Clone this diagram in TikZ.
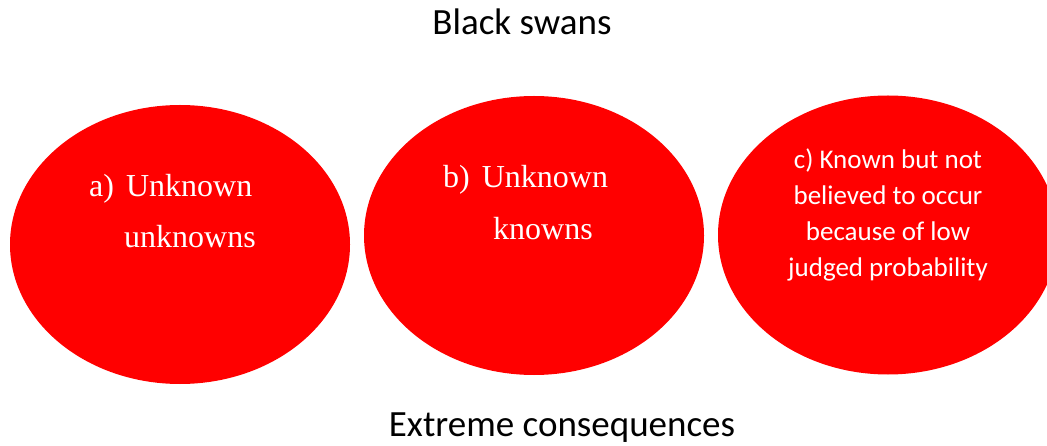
\documentclass[tikz,border=0pt]{standalone}
\usepackage{fontspec}
\setmainfont{Liberation Serif}
\newfontfamily\calfont{Carlito}
\usetikzlibrary{shapes.geometric}
\begin{document}
\begin{tikzpicture}[x=1pt,y=-1pt,
  swan/.style={ellipse, fill=red, draw=none, inner sep=0pt, minimum width=340pt, minimum height=279pt},
  sertext/.style={anchor=base west, text=white, inner sep=0pt, font=\fontsize{32}{32}\selectfont},
  caltext/.style={anchor=base, text=white, inner sep=0pt, font=\calfont\fontsize{27}{27}\selectfont},
  heading/.style={anchor=base, text=black, inner sep=0pt, font=\calfont\fontsize{37}{37}\selectfont}]
\useasboundingbox (0,0) rectangle (1047,446);
\clip (0,0) rectangle (1047,446);
\node[swan] (e1) at (180,244.5) {};
\node[swan] (e2) at (534,235.5) {};
\node[swan] (e3) at (888,235) {};
\node[sertext] (a1) at (89,197) {a)\hspace{12pt}Unknown};
\node[sertext] (a2) at (124,248) {unknowns};
\node[sertext] (b1) at (443,188) {b)\hspace{12pt}Unknown};
\node[sertext] (b2) at (493,240) {knowns};
\node[caltext] (c1) at (888,169) {c) Known but not};
\node[caltext] (c2) at (888,205) {believed to occur};
\node[caltext] (c3) at (888,241) {because of low};
\node[caltext] (c4) at (888,277) {judged probability};
\node[heading] (top) at (522,35) {Black swans};
\node[heading] (bot) at (562,436) {Extreme consequences};
\end{tikzpicture}
\end{document}
